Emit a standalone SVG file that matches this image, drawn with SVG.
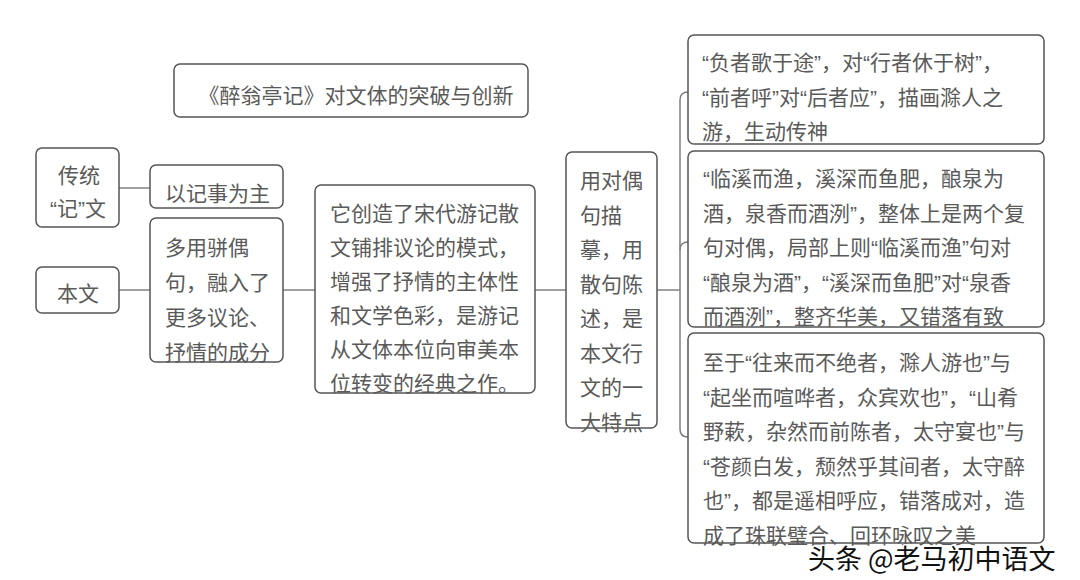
<svg xmlns="http://www.w3.org/2000/svg" width="1080" height="580" viewBox="0 0 1080 580">
<style>
.box{fill:#fff;stroke:#555;stroke-width:1.5}
.t{font-family:"Liberation Sans","Noto Sans CJK SC",sans-serif;font-size:21px;fill:#5a5a5a}
.c{fill:none;stroke:#808080;stroke-width:1.5}
.wm{font-family:"Noto Sans CJK SC",sans-serif;font-size:27px;fill:#111;stroke:#fff;stroke-width:3;paint-order:stroke;stroke-linejoin:round}
</style>
<rect width="1080" height="580" fill="#fff"/>
<g id="connectors">
<path class="c" d="M119,188 H150"/>
<path class="c" d="M119,290 H150"/>
<path class="c" d="M283,290 H315"/>
<path class="c" d="M535,290 H566"/>
<path class="c" d="M657,290 H680"/>
<path class="c" d="M688,92 Q680,92 680,100 V429 Q680,437 688,437"/>
<path class="c" d="M680,250 Q680,242 688,242"/>
</g>
<g id="title">
<rect class="box" x="174" y="64" width="354" height="53" rx="6"/>
<text class="t" x="356" y="103" text-anchor="middle">《醉翁亭记》对文体的突破与创新</text>
</g>
<g id="node-traditional">
<rect class="box" x="36" y="148" width="83" height="79" rx="6"/>
<text class="t" x="79" y="183" text-anchor="middle">传统</text>
<text class="t" x="78" y="216" text-anchor="middle">“记”文</text>
</g>
<g id="node-narrative">
<rect class="box" x="150" y="165" width="133" height="43" rx="6"/>
<text class="t" x="165" y="201">以记事为主</text>
</g>
<g id="node-thistext">
<rect class="box" x="36" y="267" width="83" height="46" rx="6"/>
<text class="t" x="78" y="301" text-anchor="middle">本文</text>
</g>
<g id="node-parallel">
<rect class="box" x="150" y="218" width="133" height="144" rx="6"/>
<text class="t" x="165" y="255">多用骈偶</text>
<text class="t" x="165" y="290">句，融入了</text>
<text class="t" x="165" y="325">更多议论、</text>
<text class="t" x="165" y="360">抒情的成分</text>
</g>
<g id="node-middle">
<rect class="box" x="315" y="185" width="220" height="208" rx="6"/>
<text class="t" x="330" y="221">它创造了宋代游记散</text>
<text class="t" x="330" y="255">文铺排议论的模式，</text>
<text class="t" x="330" y="289">增强了抒情的主体性</text>
<text class="t" x="330" y="323">和文学色彩，是游记</text>
<text class="t" x="330" y="357">从文体本位向审美本</text>
<text class="t" x="330" y="391">位转变的经典之作。</text>
</g>
<g id="node-column">
<rect class="box" x="566" y="152" width="91" height="276" rx="6"/>
<text class="t" x="580" y="188">用对偶</text>
<text class="t" x="580" y="222.5">句描</text>
<text class="t" x="580" y="257">摹，用</text>
<text class="t" x="580" y="291.5">散句陈</text>
<text class="t" x="580" y="326">述，是</text>
<text class="t" x="580" y="360.5">本文行</text>
<text class="t" x="580" y="395">文的一</text>
<text class="t" x="580" y="429.5">大特点</text>
</g>
<g id="node-r1">
<rect class="box" x="688" y="35" width="356" height="109" rx="6"/>
<text class="t" x="702" y="70">“负者歌于途”，对“行者休于树”，</text>
<text class="t" x="702" y="105">“前者呼”对“后者应”，描画滁人之</text>
<text class="t" x="702" y="139">游，生动传神</text>
</g>
<g id="node-r2">
<rect class="box" x="688" y="151" width="356" height="176" rx="6"/>
<text class="t" x="703" y="186">“临溪而渔，溪深而鱼肥，酿泉为</text>
<text class="t" x="703" y="220.5">酒，泉香而酒洌”，整体上是两个复</text>
<text class="t" x="703" y="255">句对偶，局部上则“临溪而渔”句对</text>
<text class="t" x="703" y="289.5">“酿泉为酒”，“溪深而鱼肥”对“泉香</text>
<text class="t" x="703" y="324">而酒洌”，整齐华美，又错落有致</text>
</g>
<g id="node-r3">
<rect class="box" x="688" y="333" width="356" height="210" rx="6"/>
<text class="t" x="703" y="370">至于“往来而不绝者，滁人游也”与</text>
<text class="t" x="703" y="404.5">“起坐而喧哗者，众宾欢也”，“山肴</text>
<text class="t" x="703" y="439">野蔌，杂然而前陈者，太守宴也”与</text>
<text class="t" x="703" y="473.5">“苍颜白发，颓然乎其间者，太守醉</text>
<text class="t" x="703" y="508">也”，都是遥相呼应，错落成对，造</text>
<text class="t" x="703" y="542.5">成了珠联璧合、回环咏叹之美</text>
</g>
<text class="wm" x="808" y="569">头条 @老马初中语文</text>
</svg>
